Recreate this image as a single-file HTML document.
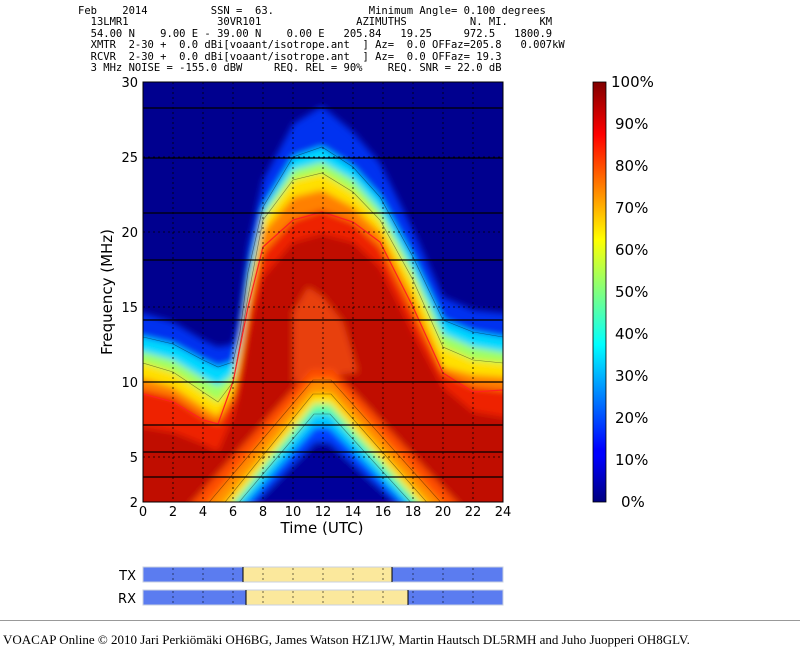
<!DOCTYPE html>
<html><head><meta charset="utf-8"><style>
body{margin:0;background:#fff;width:800px;height:656px;overflow:hidden;position:relative;font-family:"DejaVu Sans","Liberation Sans",sans-serif}
pre{position:absolute;left:78px;top:6px;margin:0;font:10.5px/11.4px "DejaVu Sans Mono","Liberation Mono",monospace;color:#000}
.foot{position:absolute;left:3px;top:632px;font:13px "Liberation Serif",serif;white-space:nowrap}
</style></head><body>
<pre>Feb    2014          SSN =  63.               Minimum Angle= 0.100 degrees
  13LMR1              30VR101               AZIMUTHS          N. MI.     KM
  54.00 N    9.00 E - 39.00 N    0.00 E   205.84   19.25     972.5   1800.9
  XMTR  2-30 +  0.0 dBi[voaant/isotrope.ant  ] Az=  0.0 OFFaz=205.8   0.007kW
  RCVR  2-30 +  0.0 dBi[voaant/isotrope.ant  ] Az=  0.0 OFFaz= 19.3
  3 MHz NOISE = -155.0 dBW     REQ. REL = 90%    REQ. SNR = 22.0 dB</pre>
<svg width="800" height="656" style="position:absolute;left:0;top:0">
<defs>
<filter id="b" x="-10%" y="-10%" width="120%" height="120%"><feGaussianBlur stdDeviation="3.5"/></filter>
<clipPath id="c"><rect x="0" y="0" width="360" height="420"/></clipPath>
<linearGradient id="jet" x1="0" y1="1" x2="0" y2="0">
<stop offset="0" stop-color="#00007f"/><stop offset="0.11" stop-color="#0000ff"/><stop offset="0.125" stop-color="#0000ff"/>
<stop offset="0.375" stop-color="#00ffff"/><stop offset="0.625" stop-color="#ffff00"/><stop offset="0.875" stop-color="#ff0000"/><stop offset="1" stop-color="#800000"/>
</linearGradient>
</defs>
<g transform="translate(143,82)">
<g clip-path="url(#c)">
<rect x="-20" y="-20" width="400" height="460" fill="#00008f"/>
<g filter="url(#b)">
<path fill="#0030f0" d="M-20 231 L0 231 L30 240 L60 258 L75 265 L90 262 L97 231 L105 165 L120 98 L150 42 L179 24 L210 50 L237 81 L270 148 L300 215 L330 228 L360 231 L380 231 L380 440 L-20 440Z"/>
<path fill="#00d8ff" d="M-20 255 L0 255 L30 262 L60 278 L75 285 L90 280 L97 250 L105 190 L120 125 L150 75 L179 65 L210 85 L237 115 L270 175 L300 238 L330 250 L360 255 L380 255 L380 440 L-20 440Z"/>
<path fill="#a0ff60" d="M-20 270 L0 270 L30 278 L60 296 L75 304 L90 292 L97 258 L105 203 L120 132 L150 88 L179 80 L210 98 L237 128 L270 188 L300 252 L330 265 L360 270 L380 270 L380 440 L-20 440Z"/>
<path fill="#ffe000" d="M-20 281 L0 281 L30 290 L60 310 L75 320 L90 300 L97 262 L105 215 L120 138 L150 98 L179 91 L210 110 L237 138 L270 198 L300 265 L330 278 L360 281 L380 281 L380 440 L-20 440Z"/>
<path fill="#ff8000" d="M-20 296 L0 296 L30 305 L60 325 L75 334 L90 310 L97 275 L105 225 L120 150 L150 115 L179 108 L210 125 L237 150 L270 215 L300 285 L330 293 L360 295 L380 295 L380 440 L-20 440Z"/>
<path fill="#ee2000" d="M-20 308 L0 308 L30 315 L60 335 L75 342 L90 318 L97 285 L105 231 L120 171 L150 138 L179 128 L210 140 L237 165 L270 231 L300 291 L330 305 L360 308 L380 308 L380 440 L-20 440Z"/>
<path fill="#c00800" d="M-20 345 L0 345 L30 350 L60 362 L75 370 L90 335 L97 305 L105 255 L120 195 L150 160 L179 152 L210 160 L237 185 L270 250 L300 305 L330 330 L360 335 L380 335 L380 440 L-20 440Z"/>
<path fill="#e84010" d="M150 230 L165 205 L180 215 L200 240 L215 290 L150 300Z"/>
<path fill="#ff5000" d="M45 425 L168 288 L190 288 L318 425Z"/>
<path fill="#ff9000" d="M62 425 L170 298 L188 298 L302 425Z"/>
<path fill="#ffe000" d="M78 425 L170 312 L188 312 L288 425Z"/>
<path fill="#60ffa0" d="M86 425 L171 322 L187 322 L280 425Z"/>
<path fill="#00c8ff" d="M92 425 L171 332 L187 332 L272 425Z"/>
<path fill="#0040ff" d="M100 425 L172 345 L186 345 L265 425Z"/>
<path fill="#00009a" d="M108 425 L172 360 L186 360 L258 425Z"/>
</g>
<g fill="none" stroke="#000" stroke-width="0.6" opacity="0.45">
<path d="M0 255 L30 262 L60 278 L75 285 L90 280 L97 250 L105 190 L120 125 L150 75 L179 65 L210 85 L237 115 L270 175 L300 238 L330 250 L360 255"/>
<path d="M0 281 L30 290 L60 310 L75 320 L90 300 L97 262 L105 215 L120 138 L150 98 L179 91 L210 110 L237 138 L270 198 L300 265 L330 278 L360 281"/>
<path d="M62 425 L170 298 L188 298 L302 425"/><path d="M78 425 L170 312 L188 312 L288 425"/><path d="M92 425 L171 332 L187 332 L272 425"/>
</g>
<path fill="none" stroke="#ff2020" stroke-width="1.2" d="M0 312 L30 320 L60 338 L75 342 L90 300 L105 225 L120 165 L150 138 L179 130 L210 140 L237 160 L270 225 L300 291 L330 310 L360 308"/>
<g stroke="#000" stroke-width="1.3">
<line x1="0" y1="26" x2="360" y2="26"/><line x1="0" y1="76" x2="360" y2="76"/><line x1="0" y1="131" x2="360" y2="131"/>
<line x1="0" y1="178" x2="360" y2="178"/><line x1="0" y1="238" x2="360" y2="238"/><line x1="0" y1="300" x2="360" y2="300"/>
<line x1="0" y1="343" x2="360" y2="343"/><line x1="0" y1="370" x2="360" y2="370"/><line x1="0" y1="395" x2="360" y2="395"/>
</g>
<g stroke="#000" stroke-width="0.8" stroke-dasharray="2,3">
<line x1="30" y1="0" x2="30" y2="420"/><line x1="60" y1="0" x2="60" y2="420"/><line x1="90" y1="0" x2="90" y2="420"/>
<line x1="120" y1="0" x2="120" y2="420"/><line x1="150" y1="0" x2="150" y2="420"/><line x1="180" y1="0" x2="180" y2="420"/>
<line x1="210" y1="0" x2="210" y2="420"/><line x1="240" y1="0" x2="240" y2="420"/><line x1="270" y1="0" x2="270" y2="420"/>
<line x1="300" y1="0" x2="300" y2="420"/><line x1="330" y1="0" x2="330" y2="420"/>
<line x1="0" y1="375" x2="360" y2="375"/><line x1="0" y1="300" x2="360" y2="300"/><line x1="0" y1="225" x2="360" y2="225"/><line x1="0" y1="150" x2="360" y2="150"/><line x1="0" y1="75" x2="360" y2="75"/>
</g>
</g>
<rect x="0" y="0" width="360" height="420" fill="none" stroke="#000" stroke-width="1"/>
</g>
<g font-size="13" text-anchor="middle" fill="#000">
<text x="143" y="516">0</text><text x="173" y="516">2</text><text x="203" y="516">4</text><text x="233" y="516">6</text><text x="263" y="516">8</text>
<text x="293" y="516">10</text><text x="323" y="516">12</text><text x="353" y="516">14</text><text x="383" y="516">16</text><text x="413" y="516">18</text>
<text x="443" y="516">20</text><text x="473" y="516">22</text><text x="503" y="516">24</text>
</g>
<g font-size="13" text-anchor="end" fill="#000">
<text x="138" y="507">2</text><text x="138" y="462">5</text><text x="138" y="387">10</text><text x="138" y="312">15</text>
<text x="138" y="237">20</text><text x="138" y="162">25</text><text x="138" y="87">30</text>
</g>
<text x="322" y="533" font-size="15" text-anchor="middle">Time (UTC)</text>
<text transform="translate(112,292) rotate(-90)" font-size="15" text-anchor="middle">Frequency (MHz)</text>
<rect x="593" y="82" width="13" height="420" fill="url(#jet)" stroke="#000" stroke-width="0.8"/>
<g font-size="15" fill="#000">
<text x="611" y="87">100%</text><text x="615" y="129">90%</text><text x="615" y="171">80%</text><text x="615" y="213">70%</text>
<text x="615" y="255">60%</text><text x="615" y="297">50%</text><text x="615" y="339">40%</text><text x="615" y="381">30%</text>
<text x="615" y="423">20%</text><text x="615" y="465">10%</text><text x="621" y="507">0%</text>
</g>
<g font-size="13" text-anchor="end"><text x="136" y="580">TX</text><text x="136" y="603">RX</text></g>
<rect x="143" y="567" width="100" height="15" fill="#5b7cf0"/><rect x="243" y="567" width="149" height="15" fill="#fbe89c"/><rect x="392" y="567" width="111" height="15" fill="#5b7cf0"/>
<rect x="143" y="590" width="103" height="15" fill="#5b7cf0"/><rect x="246" y="590" width="162" height="15" fill="#fbe89c"/><rect x="408" y="590" width="95" height="15" fill="#5b7cf0"/>
<rect x="143" y="567" width="360" height="15" fill="none" stroke="#c8d0e0" stroke-width="1"/>
<rect x="143" y="590" width="360" height="15" fill="none" stroke="#c8d0e0" stroke-width="1"/>
<line x1="243" y1="567" x2="243" y2="582" stroke="#000" stroke-width="1"/><line x1="392" y1="567" x2="392" y2="582" stroke="#000" stroke-width="1"/>
<line x1="246" y1="590" x2="246" y2="605" stroke="#000" stroke-width="1"/><line x1="408" y1="590" x2="408" y2="605" stroke="#000" stroke-width="1"/>
<g stroke="#000" stroke-width="0.8" stroke-dasharray="2,3" opacity="0.7">
<path d="M173 568V582M203 568V582M233 568V582M263 568V582M293 568V582M323 568V582M353 568V582M383 568V582M413 568V582M443 568V582M473 568V582"/>
<path d="M173 591V605M203 591V605M233 591V605M263 591V605M293 591V605M323 591V605M353 591V605M383 591V605M413 591V605M443 591V605M473 591V605"/>
</g>
<line x1="0" y1="620.5" x2="800" y2="620.5" stroke="#999" stroke-width="1"/>
</svg>
<div class="foot">VOACAP Online © 2010 Jari Perkiömäki OH6BG, James Watson HZ1JW, Martin Hautsch DL5RMH and Juho Juopperi OH8GLV.</div>
</body></html>
